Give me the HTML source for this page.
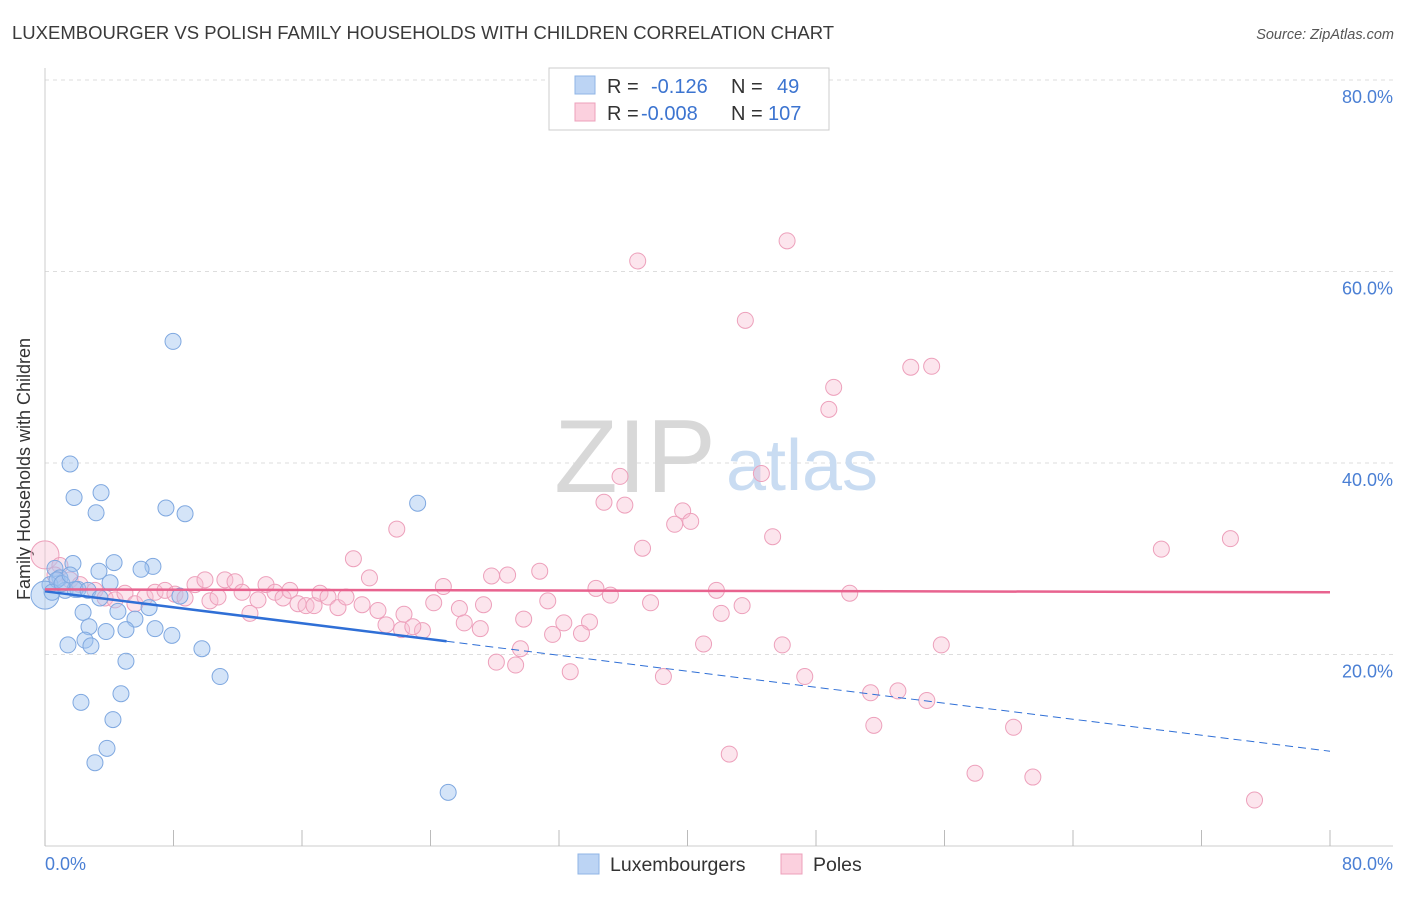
<!DOCTYPE html>
<html><head><meta charset="utf-8"><style>
body{margin:0;background:#fff;font-family:"Liberation Sans",sans-serif;}
svg text{font-family:"Liberation Sans",sans-serif;}
</style></head><body>
<svg width="1406" height="892" viewBox="0 0 1406 892">
<text x="12" y="39" font-size="18.5" fill="#3a3a3a">LUXEMBOURGER VS POLISH FAMILY HOUSEHOLDS WITH CHILDREN CORRELATION CHART</text>
<text x="1394" y="39" font-size="14.5" fill="#555" font-style="italic" text-anchor="end">Source: ZipAtlas.com</text>
<g id="grid"></g>
<g><text x="635" y="492" font-size="104" fill="#d8d8d8" font-family="Liberation Serif" text-anchor="middle">ZIP</text><text x="802" y="490" font-size="72" fill="#c9dcf2" text-anchor="middle">atlas</text></g>
<line x1="45" y1="68" x2="45" y2="846" stroke="#ccc"/>
<line x1="45" y1="846" x2="1393" y2="846" stroke="#ccc"/>
<g id="ticks"></g>
<text x="18" y="457" font-size="18" fill="#333" text-anchor="middle" transform="rotate(-90 30 457)">Family Households with Children</text>
<g id="pts"></g>
<g id="trend"></g>
<text x="45" y="870" font-size="18" fill="#4a7fd4">0.0%</text>
<text x="1393" y="870" font-size="18" fill="#4a7fd4" text-anchor="end">80.0%</text>
<g>
<rect x="549" y="68" width="280" height="62" fill="#fff" stroke="#ccc"/>
<rect x="575" y="76" width="20" height="18" fill="#bcd4f4" stroke="#8fb4e6"/>
<rect x="575" y="103" width="20" height="18" fill="#fbd0de" stroke="#eda0bb"/>
<text x="607" y="93" font-size="20" fill="#333">R = </text><text x="651" y="93" font-size="20" fill="#3c74d0">-0.126</text>
<text x="731" y="93" font-size="20" fill="#333">N = </text><text x="777" y="93" font-size="20" fill="#3c74d0">49</text>
<text x="607" y="120" font-size="20" fill="#333">R = </text><text x="641" y="120" font-size="20" fill="#3c74d0">-0.008</text>
<text x="731" y="120" font-size="20" fill="#333">N = </text><text x="768" y="120" font-size="20" fill="#3c74d0">107</text>
</g>
<g>
<rect x="578" y="854" width="21" height="20" fill="#bcd4f4" stroke="#8fb4e6"/>
<text x="610" y="871" font-size="19.5" fill="#333">Luxembourgers</text>
<rect x="781" y="854" width="21" height="20" fill="#fbd0de" stroke="#eda0bb"/>
<text x="813" y="871" font-size="19.5" fill="#333">Poles</text>
</g>
</svg>
<script>
const yTicks=[20,40,60,80];
const xTicks=[0,8,16,24,32,40,48,56,64,72,80];
const luxX=[7.97,1.56,1.81,3.49,3.18,7.53,8.72,23.2,1.74,4.30,6.72,3.36,5.98,4.05,0.62,0.93,1.25,2.05,0.31,0,8.4,2.37,6.48,4.54,5.6,2.74,3.8,5.04,6.85,7.9,2.49,1.43,2.86,9.77,5.04,10.9,2.24,4.73,4.23,3.86,3.11,25.1,0.75,1.87,0.44,1.06,2.68,1.56,3.42];
const luxY=[52.7,39.9,36.4,36.9,34.8,35.3,34.7,35.8,29.5,29.6,29.2,28.7,28.9,27.5,29.0,28.0,26.7,26.8,27.3,26.2,26.1,24.4,24.9,24.5,23.7,22.9,22.4,22.6,22.7,22.0,21.5,21.0,20.9,20.6,19.3,17.7,15.0,15.9,13.2,10.2,8.7,5.6,27.8,26.8,26.5,27.4,26.7,28.3,25.9];
const polX=[46.2,36.9,43.6,53.9,55.2,49.1,48.8,35.8,44.6,34.8,36.1,39.7,40.2,39.2,21.9,45.3,37.2,69.5,73.8,19.2,30.8,27.8,28.8,20.2,24.8,34.3,41.8,50.1,35.2,31.3,37.7,43.4,27.3,24.2,25.8,42.1,29.8,32.3,33.9,26.1,27.1,31.6,33.4,22.2,23.5,41.0,45.9,55.8,29.6,28.1,29.3,32.7,38.5,47.3,51.4,53.1,54.9,51.6,60.3,42.6,57.9,61.5,75.3,0,0.93,0.62,1.56,2.18,3.11,3.74,4.36,4.98,5.6,6.23,6.85,7.47,8.09,8.72,9.34,9.96,10.27,10.77,11.2,11.83,12.27,12.76,13.26,13.76,14.32,14.82,15.25,15.75,16.25,16.75,17.12,17.62,18.24,18.74,19.74,20.73,21.23,22.35,22.9];
const polY=[63.2,61.1,54.9,50.0,50.1,47.9,45.6,38.6,38.9,35.9,35.6,35.0,33.9,33.6,33.1,32.3,31.1,31.0,32.1,30.0,28.7,28.2,28.3,28.0,27.1,26.9,26.7,26.4,26.2,25.6,25.4,25.1,25.2,25.4,24.8,24.3,23.7,23.3,23.4,23.3,22.7,22.1,22.2,22.6,22.5,21.1,21.0,21.0,20.6,19.2,18.9,18.2,17.7,17.7,16.0,16.2,15.2,12.6,12.4,9.6,7.6,7.2,4.8,30.4,29.3,28.3,27.8,27.3,26.7,25.9,25.7,26.4,25.3,26.0,26.5,26.7,26.3,25.9,27.3,27.8,25.6,26.0,27.8,27.6,26.5,24.3,25.7,27.3,26.5,25.9,26.7,25.3,25.1,25.1,26.4,26.0,24.9,26.0,25.2,24.6,23.1,24.2,22.9];
const luxTrend=[26.6,9.9];
const polTrend=[26.8,26.5];
const NS='http://www.w3.org/2000/svg';
const sx=v=>45+v*1285/80;
const sy=v=>846-v*191.5/20;
function mk(t,a,p){const e=document.createElementNS(NS,t);for(const k in a)e.setAttribute(k,a[k]);p.appendChild(e);return e;}
const grid=document.getElementById('grid');
yTicks.forEach(t=>{
 const l=mk('line',{x1:45,x2:1393,y1:sy(t),y2:sy(t),stroke:'#ddd','stroke-dasharray':'4,4'},grid);
 
 
 const tx=mk('text',{x:1393,y:sy(t)+23,'font-size':18,fill:'#4a7fd4','text-anchor':'end'},grid);
 tx.textContent=t.toFixed(1)+'%';
 
 
});
const ticks=document.getElementById('ticks');
xTicks.forEach(t=>{
 const l=mk('line',{x1:sx(t),x2:sx(t),y1:830,y2:846,stroke:'#bbb'},ticks);
 
 
});
const pts=document.getElementById('pts');
polX.forEach((x,i)=>{
 const c=mk('circle',{cx:sx(x),cy:sy(polY[i]),r:i==63?14:8,fill:'rgba(248,190,210,0.4)',stroke:'#eda0bb','stroke-width':1},pts);
 
 
});
luxX.forEach((x,i)=>{
 const c=mk('circle',{cx:sx(x),cy:sy(luxY[i]),r:i==19?14:8,fill:'rgba(160,196,240,0.45)',stroke:'#7fa8e0','stroke-width':1},pts);
 
 
});
const tr=document.getElementById('trend');
const ly=x=>luxTrend[0]+(luxTrend[1]-luxTrend[0])*x/80;
let a=mk('line',{x1:sx(0),y1:sy(ly(0)),x2:sx(25),y2:sy(ly(25)),stroke:'#2f6fd6','stroke-width':2.5},tr);


a=mk('line',{x1:sx(25),y1:sy(ly(25)),x2:sx(80),y2:sy(ly(80)),stroke:'#2f6fd6','stroke-width':1,'stroke-dasharray':'8,5'},tr);


a=mk('line',{x1:sx(0),y1:sy(polTrend[0]),x2:sx(80),y2:sy(polTrend[1]),stroke:'#e8638f','stroke-width':2.5},tr);


</script>
</body></html>
